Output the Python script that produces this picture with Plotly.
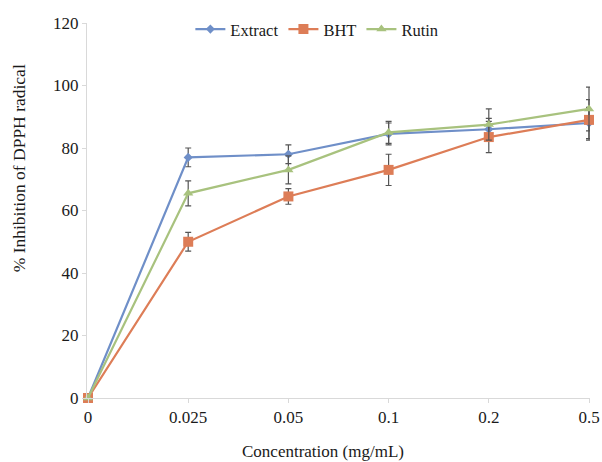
import plotly.graph_objects as go

categories = ["0", "0.025", "0.05", "0.1", "0.2", "0.5"]
extract = [0, 77, 78, 84.5, 86, 88]
extract_err = [0, 3, 3, 3.5, 3.5, 5]
bht = [0, 50, 64.5, 73, 83.5, 89]
bht_err = [0, 3, 2.5, 5, 5, 6.5]
rutin = [0, 65.5, 73, 85, 87.5, 92.5]
rutin_err = [0, 4, 4.5, 3.5, 5, 7]
yticks = [0, 20, 40, 60, 80, 100, 120]

xpos = list(range(len(categories)))
FONT = "Liberation Serif"
TXT = "#1a1a1a"

fig = go.Figure()
series = [
    ("Extract", extract, extract_err, "#6F8FC8", "diamond", 7),
    ("BHT", bht, bht_err, "#DD7D57", "square", 10),
    ("Rutin", rutin, rutin_err, "#A8C27E", "triangle-up", 9),
]
for name, vals, errs, color, sym, size in series:
    fig.add_trace(go.Scatter(
        x=xpos, y=vals, name=name, mode="lines+markers",
        line=dict(color=color, width=2.2),
        marker=dict(symbol=sym, size=size, color=color),
        error_y=dict(type="data", array=errs, color="#555555", thickness=1.2, width=3),
        cliponaxis=False,
    ))

fig.update_layout(
    width=602, height=462,
    margin=dict(l=87, r=12, t=16, b=64),
    paper_bgcolor="white", plot_bgcolor="white",
    font=dict(family=FONT, size=16, color=TXT),
    showlegend=True,
    legend=dict(orientation="h", x=0.457, y=0.983, xanchor="center", yanchor="middle",
                font=dict(family=FONT, size=16.5, color=TXT),
                bgcolor="rgba(0,0,0,0)", tracegroupgap=0),
    xaxis=dict(
        range=[-0.01, 5.01], tickmode="array", tickvals=xpos, ticktext=categories,
        showgrid=False, zeroline=False, showline=True, linecolor="#D9D9D9", linewidth=1,
        ticks="outside", ticklen=4, tickcolor="#D9D9D9", automargin=False,
        tickfont=dict(family=FONT, size=17, color=TXT),
    ),
    yaxis=dict(
        range=[0, 120], tickmode="array", tickvals=yticks,
        showgrid=False, zeroline=False, showline=True, linecolor="#D9D9D9", linewidth=1,
        ticks="outside", ticklen=4, tickcolor="#D9D9D9", automargin=False,
        tickfont=dict(family=FONT, size=17, color=TXT),
    ),
    annotations=[
        dict(text="Concentration (mg/mL)", xref="paper", yref="paper",
             x=(323 - 87) / 503, y=-(452 - 398) / 382, xanchor="center", yanchor="middle",
             showarrow=False, font=dict(family=FONT, size=17, color=TXT)),
        dict(text="% Inhibition of DPPH radical", xref="paper", yref="paper",
             x=-(87 - 19) / 503, y=(398 - 164) / 382, xanchor="center", yanchor="middle",
             textangle=-90, showarrow=False, font=dict(family=FONT, size=17.5, color=TXT)),
    ],
)

fig.write_html("out.html", config={"displayModeBar": False},
               post_script="document.body.style.margin='0';")
